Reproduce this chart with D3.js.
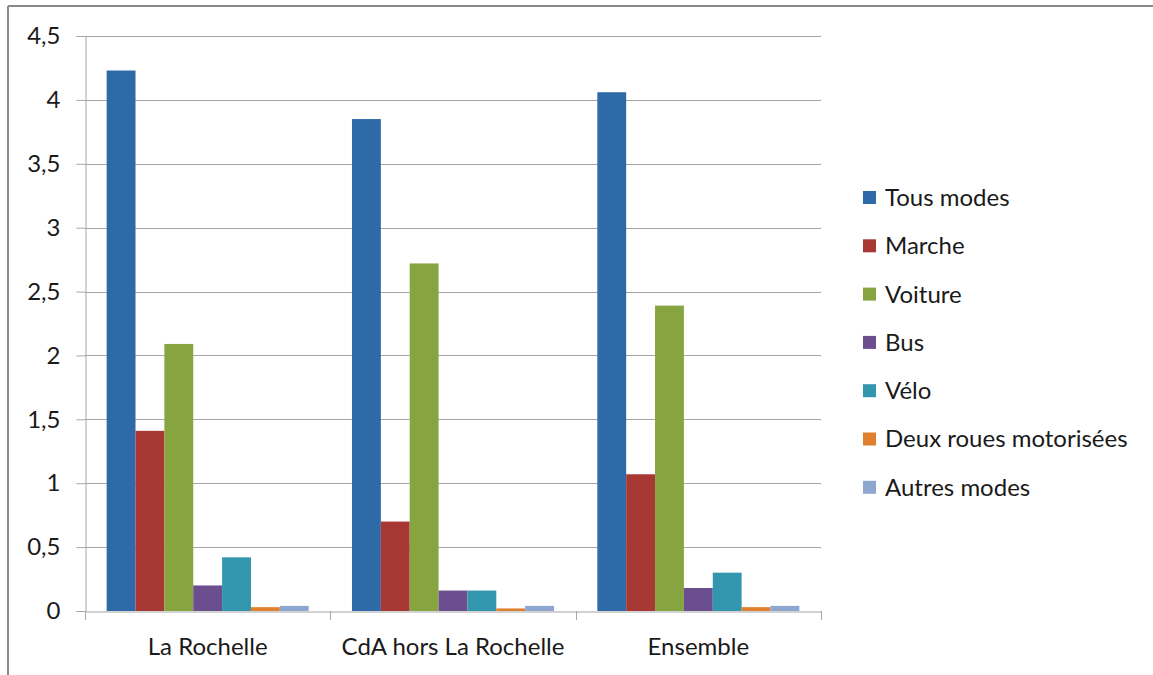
<!DOCTYPE html>
<html><head><meta charset="utf-8">
<script src="https://cdn.jsdelivr.net/npm/d3@7"></script>
<style>body{margin:0;background:#fff}svg{display:block}text{font-family:Lato,"Liberation Sans",sans-serif;fill:#1a1a1a}</style>
</head><body>
<svg id="c" width="1153" height="675"></svg>
<script>
const categories = ["La Rochelle", "CdA hors La Rochelle", "Ensemble"];
const seriesNames = ["Tous modes", "Marche", "Voiture", "Bus", "Vélo", "Deux roues motorisées", "Autres modes"];
const seriesColors = ["#2e6aa8", "#a83833", "#86a43f", "#6b4e8e", "#3196ae", "#e07f2c", "#8ea7d1"];
const tousModes = [4.23, 3.85, 4.06];
const marche = [1.41, 0.70, 1.07];
const voiture = [2.09, 2.72, 2.39];
const bus = [0.20, 0.16, 0.18];
const velo = [0.42, 0.16, 0.30];
const deuxRoues = [0.03, 0.02, 0.03];
const autres = [0.04, 0.04, 0.04];
const yTicks = [0, 0.5, 1, 1.5, 2, 2.5, 3, 3.5, 4, 4.5];

const seriesValues = [tousModes, marche, voiture, bus, velo, deuxRoues, autres];
const svg = d3.select("#c");
const FS = 24;

// frame
svg.append("line").attr("x1", 8).attr("x2", 1153).attr("y1", 6).attr("y2", 6).attr("stroke", "#8a8a8a").attr("stroke-width", 2);
svg.append("line").attr("x1", 8).attr("x2", 8).attr("y1", 6).attr("y2", 675).attr("stroke", "#8a8a8a").attr("stroke-width", 2);

const pL = 85, pR = 821, pT = 36, pB = 611;
const y = d3.scaleLinear().domain([0, 4.5]).range([pB, pT]);
const x0 = d3.scaleBand().domain(categories).range([pL, pR]).paddingInner(0).paddingOuter(0);
const inner = x0.bandwidth() / 8.5;
const x1 = d3.scaleBand().domain(seriesNames).range([0.75 * inner, 7.75 * inner]).padding(0);

// gridlines
svg.append("g").selectAll("line").data(yTicks.filter(d => d > 0)).join("line")
  .attr("x1", pL).attr("x2", pR).attr("y1", d => Math.round(y(d)) + 0.5).attr("y2", d => Math.round(y(d)) + 0.5)
  .attr("stroke", "#a6a6a6").attr("stroke-width", 1);

// y axis
const yAxis = svg.append("g").attr("transform", `translate(${pL + 0.5},0)`)
  .call(d3.axisLeft(y).tickValues(yTicks).tickSize(9).tickPadding(16)
    .tickFormat(d => String(d).replace(".", ",")));
yAxis.select(".domain").attr("stroke", "#a6a6a6");
yAxis.selectAll(".tick line").attr("stroke", "#a6a6a6");
yAxis.selectAll(".tick text").attr("font-size", FS).attr("fill", "#1a1a1a").attr("font-family", "Lato, 'Liberation Sans', sans-serif");

// bars
const groups = svg.append("g").selectAll("g").data(categories).join("g")
  .attr("transform", d => `translate(${x0(d)},0)`);
groups.selectAll("rect").data((c, ci) => seriesNames.map((s, si) => ({ s, si, v: seriesValues[si][ci] }))).join("rect")
  .attr("x", d => x1(d.s)).attr("width", x1.bandwidth())
  .attr("y", d => y(d.v)).attr("height", d => y(0) - y(d.v))
  .attr("fill", d => seriesColors[d.si]);

// x axis
const xAxis = svg.append("g").attr("transform", `translate(0,${pB + 0.5})`)
  .call(d3.axisBottom(x0).tickSize(0).tickPadding(26));
xAxis.select(".domain").attr("stroke", "#a6a6a6");
xAxis.selectAll(".tick text").attr("font-size", FS).attr("fill", "#1a1a1a").attr("font-family", "Lato, 'Liberation Sans', sans-serif");
svg.append("g").selectAll("line").data([pL, x0(categories[1]), x0(categories[2]), pR]).join("line")
  .attr("x1", d => Math.round(d) + 0.5).attr("x2", d => Math.round(d) + 0.5)
  .attr("y1", pB).attr("y2", pB + 9).attr("stroke", "#a6a6a6");

// legend
const leg = svg.append("g").selectAll("g").data(seriesNames).join("g")
  .attr("transform", (d, i) => `translate(863,${198 + i * 48.3})`);
leg.append("rect").attr("x", 0).attr("y", -7).attr("width", 13).attr("height", 13).attr("fill", (d, i) => seriesColors[i]);
leg.append("text").attr("x", 22).attr("y", 0).attr("dy", "0.33em").attr("font-size", FS).text(d => d);
</script>
</body></html>
